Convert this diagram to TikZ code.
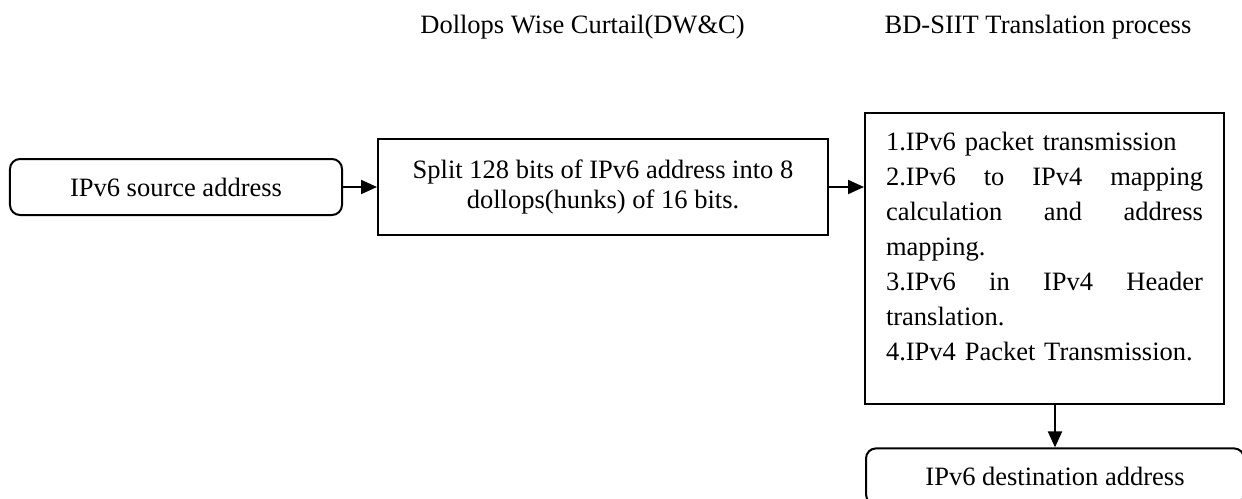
\documentclass[tikz,border=0pt]{standalone}
\usepackage{fontspec}
\setmainfont{Liberation Serif}
\usetikzlibrary{positioning,arrows.meta}

\tikzset{
	addrbox/.style={draw, line width=1pt, rounded corners=5pt,
		minimum width=166pt, minimum height=28pt},
	stepbox/.style={draw, line width=1pt},
	headtext/.style={inner sep=0pt},
	flow/.style={line width=1pt, -{Triangle[length=8pt,width=7pt]}}
}

\begin{document}
\begin{tikzpicture}[font=\fontsize{13.25}{15.2}\selectfont]
		
		\useasboundingbox (-88pt,-155.5pt) rectangle (533pt,93.5pt);
		
		% Source address
		\node [addrbox]  (src) {IPv6 source address};
	
		% DW&C step
		\node [stepbox,
		minimum width=225pt,
		minimum height=48pt,
		align=center,
		right= 17pt of src
		]  (dwc) {Split 128 bits of IPv6 address into 8\\
			dollops(hunks) of 16 bits.};
		
		% BD-SIIT step
		\node [stepbox,
		text width=158.5pt,
		inner xsep=10.5pt,
		inner ysep=9.5pt,
		text depth=117.5pt,
		align=left,
		font=\fontsize{13.25}{17.5}\selectfont,
		below right= -13pt and 17.5pt of dwc.north east
		]  (bdsiit) {1.IPv6 packet transmission\\
			2.IPv6\hfill to\hfill IPv4\hfill mapping\\
			calculation\hfill and\hfill address\\
			mapping.\\
			3.IPv6\hfill in\hfill IPv4\hfill Header\\
			translation.\\
			4.IPv4 Packet Transmission.};
		
		% Destination address
		\node [addrbox,
		minimum width=189pt,
		below left= 21pt and -10pt of bdsiit.south east
		]  (dst) {IPv6 destination address};
		
		% Titles
		\node [headtext, above= 49pt of dwc, xshift=-10.25pt] (dwctitle) {Dollops Wise Curtail(DW\&C)};
		
		\node [headtext, above= 36pt of bdsiit, xshift=-3.25pt] (bdtitle) {BD-SIIT Translation process};
		
		\draw[flow] (src) -- (dwc);
		
		\draw[flow] (dwc.east) -- (dwc.east -| bdsiit.west);
		
		\draw[flow] (bdsiit.south -| dst.north) -- (dst.north);
		
\end{tikzpicture}
\end{document}
